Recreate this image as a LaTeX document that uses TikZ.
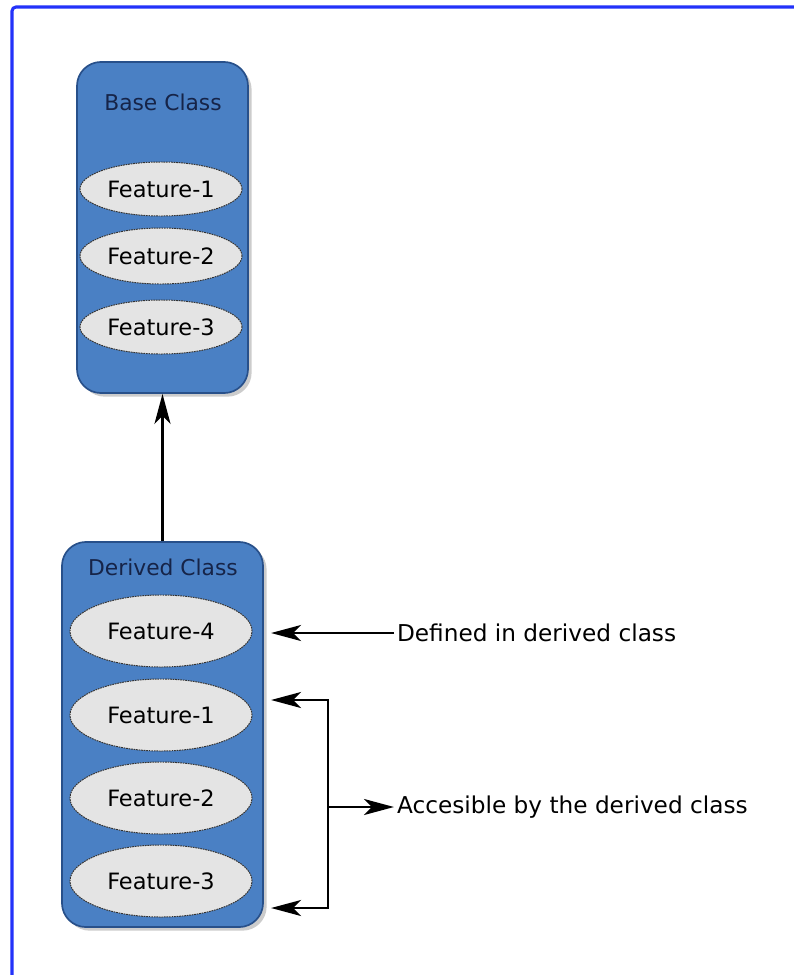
\documentclass[tikz,border=0pt]{standalone}
\usepackage{fontspec}
\setmainfont{DejaVu Sans}
\usetikzlibrary{shapes.geometric,arrows.meta,shadows}
\definecolor{frameblue}{RGB}{35,50,250}
\definecolor{boxblue}{RGB}{74,128,196}
\definecolor{boxedge}{RGB}{40,80,138}
\definecolor{featgray}{RGB}{228,228,228}
\definecolor{titleblue}{RGB}{22,36,72}

\begin{document}
\begin{tikzpicture}[x=0.025cm, y=0.025cm]
\tikzstyle{every node}+=[inner sep=0pt, font=\fontsize{15.5}{18}\selectfont]
\tikzstyle{classbox}=[draw=boxedge, line width=1.2pt, fill=boxblue, rounded corners=0.6cm, drop shadow={shadow xshift=0.09cm, shadow yshift=-0.09cm, opacity=0.4}]
\tikzstyle{classtitle}=[text=titleblue]
\tikzstyle{feature}=[ellipse, draw=black!80, dash pattern=on 1.2pt off 0.6pt, line width=0.7pt, fill=featgray, font=\fontsize{16}{18}\selectfont]
\tikzstyle{arr}=[line width=1.9pt, -{Stealth[length=0.75cm, width=0.4cm, inset=0.2cm]}]
\tikzstyle{note}=[anchor=west, inner sep=2pt, font=\fontsize{16.5}{20}\selectfont]
\useasboundingbox (0,0) rectangle (794,-975);
\fill [white] (0,0) rectangle (794,-975);
\draw [frameblue, line width=2.2pt, rounded corners=0.1cm] (12,-980) -- (12,-7) -- (800,-7);
% base class
\node [classbox, minimum width=4.275cm, minimum height=8.275cm] (base) at (162.5,-227.5) {};
\node [classtitle] (basetitle) at (163,-102) {Base Class};
\node [feature, minimum width=4.05cm, minimum height=1.35cm] (bf1) at (161,-189) {Feature-1};
\node [feature, minimum width=4.05cm, minimum height=1.4cm] (bf2) at (161,-256) {Feature-2};
\node [feature, minimum width=4.05cm, minimum height=1.35cm] (bf3) at (161,-327) {Feature-3};
% derived class
\node [classbox, minimum width=5.025cm, minimum height=9.625cm] (derived) at (162.5,-734.5) {};
\node [classtitle] (derivedtitle) at (163,-567) {Derived Class};
\node [feature, minimum width=4.55cm, minimum height=1.8cm] (df4) at (161,-631) {Feature-4};
\node [feature, minimum width=4.55cm, minimum height=1.8cm] (df1) at (161,-715) {Feature-1};
\node [feature, minimum width=4.55cm, minimum height=1.8cm] (df2) at (161,-798) {Feature-2};
\node [feature, minimum width=4.55cm, minimum height=1.8cm] (df3) at (161,-881) {Feature-3};
% inheritance
\draw [arr] (derived.north) -- (base.south);
% notes
\node [note] (defnote) at (394,-633) {Defined in derived class};
\node [note] (accnote) at (394,-807) {Accesible by the derived class};
\coordinate (brtop) at (328,-700);
\coordinate (brbot) at (328,-908);
\coordinate (brmid) at (328,-807);
\draw [arr, shorten >=0.18cm] (defnote.west) -- (defnote.west -| derived.east);
\draw [line width=1.9pt, {Stealth[length=0.75cm, width=0.4cm, inset=0.2cm]}-{Stealth[length=0.75cm, width=0.4cm, inset=0.2cm]}, shorten <=0.18cm, shorten >=0.18cm] (brtop -| derived.east) -- (brtop) -- (brbot) -- (brbot -| derived.east);
\draw [arr] (brmid) -- (accnote.west);
\end{tikzpicture}
\end{document}
